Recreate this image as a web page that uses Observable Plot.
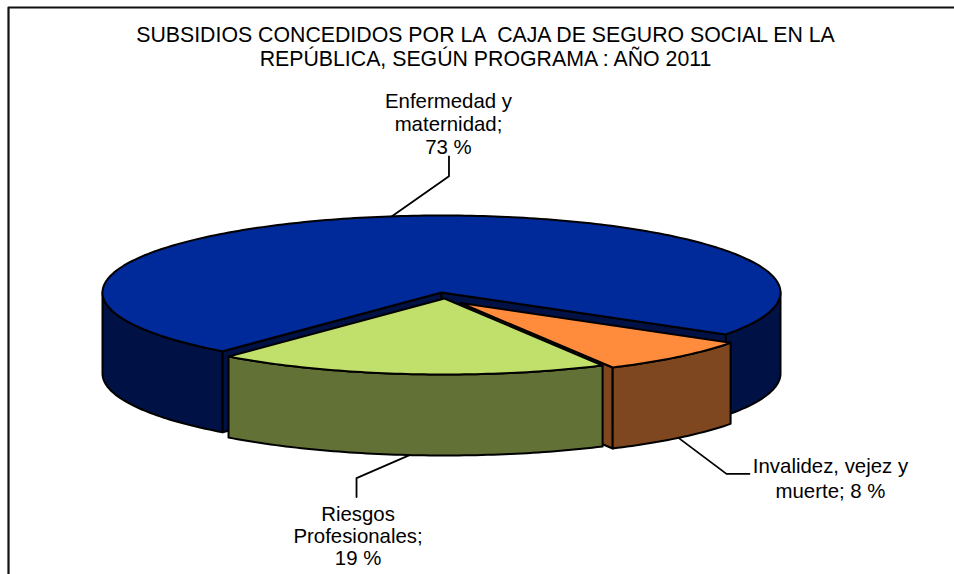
<!DOCTYPE html>
<html>
<head>
<meta charset="utf-8">
<script src="https://cdn.jsdelivr.net/npm/d3@7"></script>
<script src="https://cdn.jsdelivr.net/npm/@observablehq/plot@0.6"></script>
<style>
html,body{margin:0;padding:0;background:#fff;}
svg{display:block;}
</style>
</head>
<body>
<div id="chart"></div>
<script>
// Data
const categories = ["Invalidez, vejez y muerte", "Riesgos Profesionales", "Enfermedad y maternidad"];
const values = [8, 19, 73];
const sliceLabels = ["Invalidez, vejez y\nmuerte; 8 %", "Riesgos\nProfesionales;\n19 %", "Enfermedad y\nmaternidad;\n73 %"];
const titleText = "SUBSIDIOS CONCEDIDOS POR LA  CAJA DE SEGURO SOCIAL EN LA\nREPÚBLICA, SEGÚN PROGRAMA : AÑO 2011";

// Styles
const topColors = ["#FF8C3C", "#C1DF6B", "#002A9A"];
const sideColors = ["#7F4720", "#627135", "#001146"];
const font = "Liberation Sans, Arial, sans-serif";

// Pie projection (pixel space, scales are identity)
const W = 954, H = 574;
const cx = 441, cy = 292, rx = 339, ry = 77, depth = 81;
const startAngle = 123;
// explosion: apex shift and radius scale for each slice
const apexShift = [[19, 10.5], [3, 6], [0, 0]];
const radiusScale = [0.95, 0.987, 1];
// leader elbows and label anchors, relative to the point on the pie edge
const elbows = [[[48, 36], [71, 36]], [[-53, 23], [-53, 42]], [[57, -40], [57, -60]]];
const labelOffsets = [[152, 39.5], [-51.5, 81], [56.5, -92.5]];
const labelLineHeights = [1.22, 1.08, 1.12];

const total = d3.sum(values);
let acc = startAngle;
const slices = values.map((v, i) => {
  const a0 = acc, a1 = acc + v / total * 360;
  acc = a1;
  return {i, a0, a1, ax: cx + apexShift[i][0], ay: cy + apexShift[i][1], s: radiusScale[i]};
});
const at = (sl, deg, dz = 0) => {
  const t = deg * Math.PI / 180;
  return {x: sl.ax + sl.s * rx * Math.sin(t), y: sl.ay - sl.s * ry * Math.cos(t) + dz};
};
const arc = (sl, a, b, dz = 0) => {
  const n = Math.max(2, Math.ceil(Math.abs(b - a)));
  return d3.range(n + 1).map(k => at(sl, a + (b - a) * k / n, dz));
};
const close = pts => [...pts, pts[0]];
const topFace = sl => close([{x: sl.ax, y: sl.ay}, ...arc(sl, sl.a0, sl.a1)]);
const sideFace = (sl, a, b) => close([...arc(sl, a, b), ...arc(sl, b, a, depth)]);
const wall = (sl, a) => {
  const p = at(sl, a);
  return close([{x: sl.ax, y: sl.ay}, p, {x: p.x, y: p.y + depth}, {x: sl.ax, y: sl.ay + depth}]);
};
const poly = (pts, fill) => Plot.line(pts, {x: "x", y: "y", fill, stroke: "#000", strokeWidth: 2, strokeLinejoin: "round"});

const [sOrange, sGreen, sBlue] = slices;
const marks = [
  // frame
  Plot.line([{x: 8, y: H}, {x: 8, y: 7}, {x: W, y: 7}], {x: "x", y: "y", stroke: "#111", strokeWidth: 2.2}),
  // enfermedad: sides and walls
  poly(sideFace(sBlue, sBlue.a0, 270), sideColors[2]),
  poly(sideFace(sBlue, 450, sBlue.a1), sideColors[2]),
  poly(wall(sBlue, sBlue.a0), sideColors[2]),
  poly(wall(sBlue, sBlue.a1), sideColors[2]),
  poly(topFace(sBlue), topColors[2]),
  // invalidez
  poly(wall(sOrange, sOrange.a1), sideColors[0]),
  poly(sideFace(sOrange, sOrange.a0, sOrange.a1), sideColors[0]),
  poly(topFace(sOrange), topColors[0]),
  // riesgos
  poly(sideFace(sGreen, sGreen.a0, sGreen.a1), sideColors[1]),
  poly(topFace(sGreen), topColors[1])
];

// leaders and labels
slices.forEach((sl, i) => {
  const mid = (sl.a0 + sl.a1) / 2;
  const cosv = Math.cos(mid * Math.PI / 180);
  const start = at(sl, mid, cosv < 0 ? depth : 0);
  const leader = [start, ...elbows[i].map(([dx, dy]) => ({x: start.x + dx, y: start.y + dy}))];
  marks.push(Plot.line(leader, {x: "x", y: "y", stroke: "#000", strokeWidth: 1.8}));
  const row = {x: start.x + labelOffsets[i][0], y: start.y + labelOffsets[i][1], text: sliceLabels[i], name: categories[i]};
  marks.push(Plot.text([row], {x: "x", y: "y", text: "text", fontFamily: font, fontSize: 20.4, lineHeight: labelLineHeights[i], fill: "#000"}));
});
marks.push(Plot.text([{x: 485, y: 45.5, text: titleText}], {x: "x", y: "y", text: "text", fontFamily: font, fontSize: 21.3, lineHeight: 1.17, fill: "#000"}));

const chart = Plot.plot({
  width: W, height: H,
  margin: 0,
  x: {domain: [0, W], range: [0, W], axis: null},
  y: {domain: [0, H], range: [0, H], axis: null},
  style: {background: "#fff"},
  marks
});
document.getElementById("chart").appendChild(chart);
</script>
</body>
</html>
